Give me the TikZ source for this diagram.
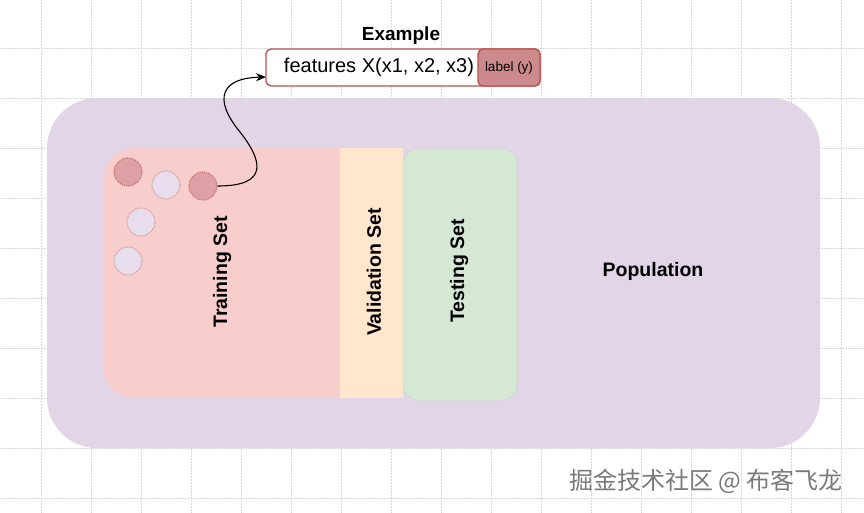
\documentclass[tikz,border=0pt]{standalone}
\usepackage{fontspec}
\setmainfont{Liberation Sans}
\newfontfamily\cjk{Noto Sans CJK SC}
\usetikzlibrary{arrows.meta}
\definecolor{popfill}{HTML}{E1D5E7}
\definecolor{trainfill}{HTML}{F8CECC}
\definecolor{valfill}{HTML}{FFE6CC}
\definecolor{testfill}{HTML}{D5E8D4}
\definecolor{testline}{HTML}{B9D4B5}
\definecolor{redline}{HTML}{B85450}
\definecolor{reddot}{HTML}{DDA0A4}
\definecolor{labfill}{HTML}{CC8A8C}
\definecolor{gridc}{HTML}{D8D8D8}
\definecolor{wm}{HTML}{7A7A7A}
\tikzset{
  vlabel/.style={font=\bfseries\fontsize{19.5}{22}\selectfont, rotate=90, text=black},
  dotred/.style={circle, minimum size=28pt, inner sep=0pt, fill=reddot, draw=redline!80, line width=1.2pt, densely dotted},
  dotlav/.style={circle, minimum size=28pt, inner sep=0pt, fill=popfill!80!white, draw=redline!55, line width=1.2pt, densely dotted},
}
\begin{document}
\begin{tikzpicture}[x=1pt,y=-1pt]
\useasboundingbox (0,0) rectangle (864,512);
\fill[white] (0,0) rectangle (864,512);
% grid
\foreach \gx in {41,91,...,841} \draw[gridc, densely dotted, line width=0.5pt] (\gx,0) -- (\gx,512);
\foreach \gy in {48,98,...,498} \draw[gridc, densely dotted, line width=0.5pt] (0,\gy) -- (864,\gy);
% population
\fill[popfill, rounded corners=50pt] (47,98) rectangle (820,448);
\node[font=\bfseries\fontsize{19.5}{22}\selectfont] (pop) at (653,271) {Population};
% training
\fill[trainfill, rounded corners=32pt] (103,148) rectangle (380,398);
\fill[trainfill] (300,148) rectangle (345,398);
\node[vlabel] (train) at (222,272) {Training Set};
% validation
\fill[valfill] (340,148) rectangle (403,398);
\node[vlabel] (val) at (374,272) {Validation Set};
% testing
\filldraw[fill=testfill, draw=testline, densely dotted, line width=0.6pt, rounded corners=15pt] (403,149) rectangle (517,400);
\node[vlabel] (test) at (459,271) {Testing Set};
% dots
\node[dotred] (d1) at (128,172) {};
\node[dotlav] (d2) at (166,185) {};
\node[dotred] (d3) at (203,186) {};
\node[dotlav] (d4) at (141,222) {};
\node[dotlav] (d5) at (128,261) {};
% example
\node[font=\bfseries\fontsize{19}{22}\selectfont] (extitle) at (401,36) {Example};
\filldraw[fill=white, draw=redline, line width=1.4pt, rounded corners=5pt] (266,49) rectangle (540,86);
\filldraw[fill=labfill, draw=redline, line width=1.4pt, rounded corners=5pt] (478,49) rectangle (540,86);
\coordinate (boxw) at (266,77);
\node[font=\fontsize{20}{22}\selectfont] (feat) at (379,67) {features X(x1, x2, x3)};
\node[font=\fontsize{13.5}{15}\selectfont] (lab) at (509,68) {label (y)};
% arrow
\draw[-{Stealth[length=10pt,width=8pt]}, line width=1.1pt, black] (d3.east) .. controls (270,186) and (262,160) .. (240,132) .. controls (212,98) and (222,78) .. (boxw);
% watermark
\node[font=\cjk\fontsize{24}{28}\selectfont, text=wm] (wmt) at (706,481) {掘金技术社区 @ 布客飞龙};
\end{tikzpicture}
\end{document}
